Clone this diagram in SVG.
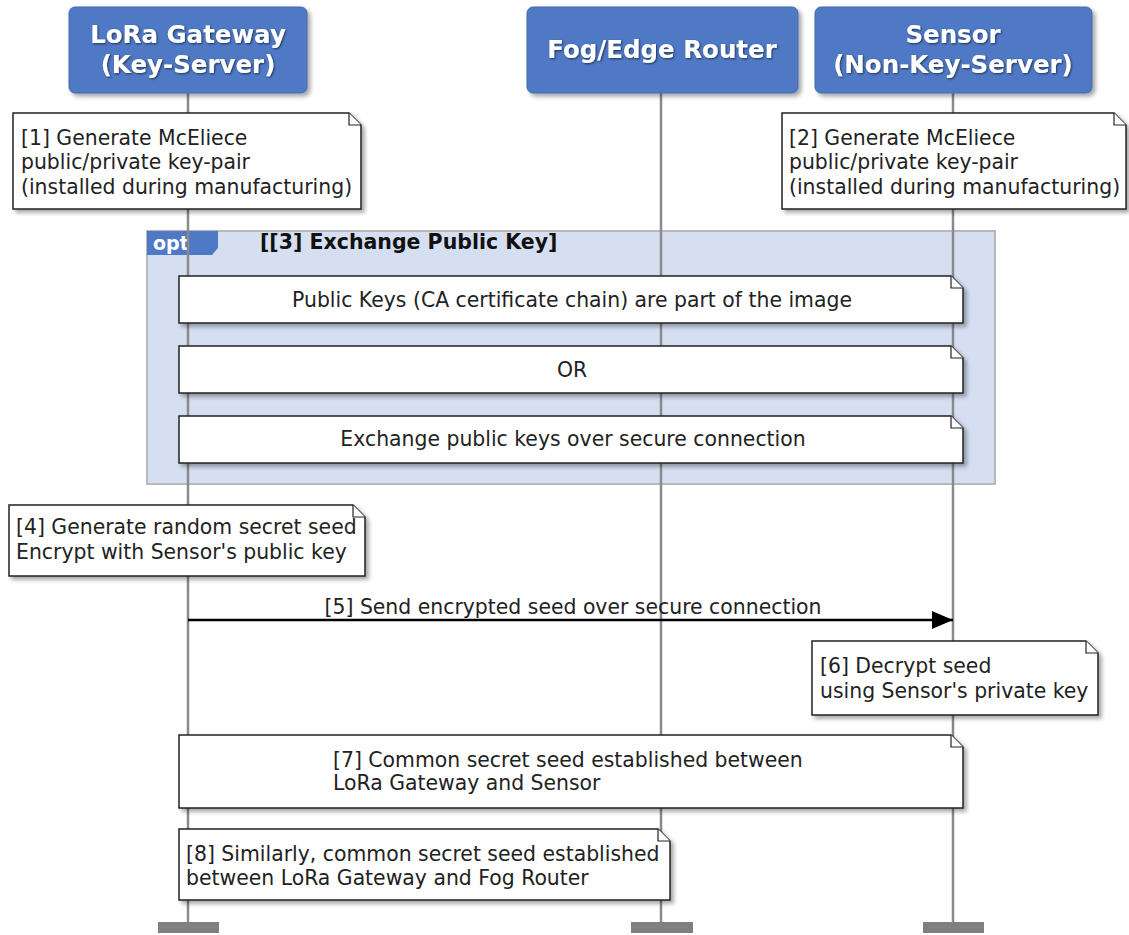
<svg xmlns="http://www.w3.org/2000/svg" width="1129" height="935" viewBox="0 0 1129 935">
<defs>
<filter id="sh" x="-10%" y="-10%" width="130%" height="140%">
<feDropShadow dx="3" dy="3" stdDeviation="2" flood-color="#000" flood-opacity="0.35"/>
</filter>
<filter id="ts" x="-5%" y="-20%" width="110%" height="150%">
<feDropShadow dx="1" dy="1" stdDeviation="1" flood-color="#000" flood-opacity="0.6"/>
</filter>
<marker id="ah" markerWidth="22" markerHeight="18" refX="21" refY="9" orient="auto" markerUnits="userSpaceOnUse">
<path d="M0,0 L21,9 L0,18 Z" fill="#000"/>
</marker>
</defs>
<style>
.hdr{fill:#4f79c5;stroke:#4468b0;stroke-width:1}
.ht{font-family:"DejaVu Sans",sans-serif;font-weight:bold;font-size:24.5px;fill:#fff;text-anchor:middle}
.life{stroke:#8a8a8a;stroke-width:2.5}
.end{fill:#808080}
.note{fill:#fff;stroke:#222;stroke-width:1.5}
.fold{fill:#fff;stroke:#222;stroke-width:1.2}
.nt{font-family:"DejaVu Sans",sans-serif;font-size:20.4px;fill:#222}
.ct{text-anchor:middle}
</style>
<rect width="1129" height="935" fill="#fff"/>

<g id="opt-frame">
<rect x="147" y="231" width="848" height="253" fill="#d6dff1" stroke="#b8b8b8" stroke-width="2"/>
<path d="M147,231 H218 V248 L212,255 H147 Z" fill="#4f79c5"/>
<text x="153" y="250" font-family="DejaVu Sans,sans-serif" font-weight="bold" font-size="19" fill="#fff">opt</text>
<text x="260" y="249" font-family="DejaVu Sans,sans-serif" font-weight="bold" font-size="20.5" fill="#111">[[3] Exchange Public Key]</text>
</g>

<g id="lifelines">
<line class="life" x1="188" y1="93" x2="188" y2="922"/>
<line class="life" x1="661" y1="93" x2="661" y2="922"/>
<line class="life" x1="953" y1="93" x2="953" y2="922"/>
<rect class="end" x="158" y="922" width="61" height="11"/>
<rect class="end" x="631" y="922" width="62" height="11"/>
<rect class="end" x="923" y="922" width="61" height="11"/>
</g>

<g id="lora-gateway">
<rect class="hdr" x="69" y="7" width="238" height="86" rx="6" filter="url(#sh)"/>
<text class="ht" x="188" y="43" filter="url(#ts)">LoRa Gateway</text>
<text class="ht" x="188" y="73" filter="url(#ts)">(Key-Server)</text>
</g>
<g id="fog-router">
<rect class="hdr" x="527" y="7" width="271" height="86" rx="6" filter="url(#sh)"/>
<text class="ht" x="662" y="58" filter="url(#ts)">Fog/Edge Router</text>
</g>
<g id="sensor">
<rect class="hdr" x="815" y="7" width="277" height="86" rx="6" filter="url(#sh)"/>
<text class="ht" x="953" y="43" filter="url(#ts)">Sensor</text>
<text class="ht" x="953" y="73" filter="url(#ts)">(Non-Key-Server)</text>
</g>

<g id="note1">
<path class="note" filter="url(#sh)" d="M13,113 H349 L361,125 V209 H13 Z"/>
<path class="fold" d="M349,113 V125 H361"/>
<text class="nt" x="21" y="145">[1] Generate McEliece</text>
<text class="nt" x="21" y="169">public/private key-pair</text>
<text class="nt" x="21" y="194">(installed during manufacturing)</text>
</g>
<g id="note2">
<path class="note" filter="url(#sh)" d="M782,113 H1114 L1126,125 V209 H782 Z"/>
<path class="fold" d="M1114,113 V125 H1126"/>
<text class="nt" x="789" y="145">[2] Generate McEliece</text>
<text class="nt" x="789" y="169">public/private key-pair</text>
<text class="nt" x="789" y="194">(installed during manufacturing)</text>
</g>

<g id="note3a">
<path class="note" filter="url(#sh)" d="M179,276 H951 L963,288 V323 H179 Z"/>
<path class="fold" d="M951,276 V288 H963"/>
<text class="nt ct" x="572" y="307">Public Keys (CA certificate chain) are part of the image</text>
</g>
<g id="note3b">
<path class="note" filter="url(#sh)" d="M179,346 H951 L963,358 V393 H179 Z"/>
<path class="fold" d="M951,346 V358 H963"/>
<text class="nt ct" x="572" y="377">OR</text>
</g>
<g id="note3c">
<path class="note" filter="url(#sh)" d="M179,416 H951 L963,428 V463 H179 Z"/>
<path class="fold" d="M951,416 V428 H963"/>
<text class="nt ct" x="573" y="446">Exchange public keys over secure connection</text>
</g>

<g id="note4">
<path class="note" filter="url(#sh)" d="M9,505 H353 L365,517 V576 H9 Z"/>
<path class="fold" d="M353,505 V517 H365"/>
<text class="nt" x="16" y="534">[4] Generate random secret seed</text>
<text class="nt" x="16" y="559">Encrypt with Sensor's public key</text>
</g>

<g id="connectors">
<line x1="188" y1="620" x2="953" y2="620" stroke="#000" stroke-width="2.5" marker-end="url(#ah)"/>
<text class="nt ct" x="573" y="614">[5] Send encrypted seed over secure connection</text>
</g>

<g id="note6">
<path class="note" filter="url(#sh)" d="M812,641 H1086 L1098,653 V715 H812 Z"/>
<path class="fold" d="M1086,641 V653 H1098"/>
<text class="nt" x="820" y="673">[6] Decrypt seed</text>
<text class="nt" x="820" y="698">using Sensor's private key</text>
</g>

<g id="note7">
<path class="note" filter="url(#sh)" d="M179,735 H951 L963,747 V808 H179 Z"/>
<path class="fold" d="M951,735 V747 H963"/>
<text class="nt" x="333" y="767">[7] Common secret seed established between</text>
<text class="nt" x="333" y="790">LoRa Gateway and Sensor</text>
</g>

<g id="note8">
<path class="note" filter="url(#sh)" d="M179,829 H658 L670,841 V900 H179 Z"/>
<path class="fold" d="M658,829 V841 H670"/>
<text class="nt" x="186" y="861">[8] Similarly, common secret seed established</text>
<text class="nt" x="186" y="885">between LoRa Gateway and Fog Router</text>
</g>
</svg>
